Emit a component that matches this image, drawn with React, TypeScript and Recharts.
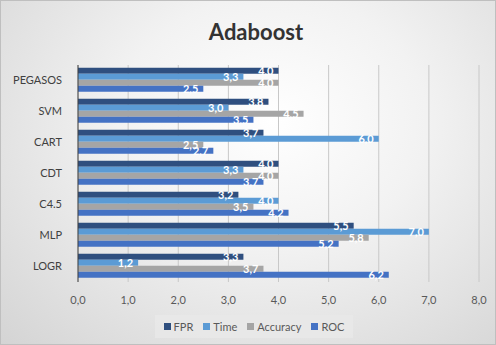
import { BarChart, Bar, XAxis, YAxis, CartesianGrid, LabelList } from "recharts";

const categories = ["PEGASOS", "SVM", "CART", "CDT", "C4.5", "MLP", "LOGR"];
const fpr = [4.0, 3.8, 3.7, 4.0, 3.2, 5.5, 3.3];
const time = [3.3, 3.0, 6.0, 3.3, 4.0, 7.0, 1.2];
const accuracy = [4.0, 4.5, 2.5, 4.0, 3.5, 5.8, 3.7];
const roc = [2.5, 3.5, 2.7, 3.7, 4.2, 5.2, 6.2];
const xTicks = [0, 1, 2, 3, 4, 5, 6, 7, 8];

const SERIES = [
  { key: "FPR", color: "#2f4f7f" },
  { key: "Time", color: "#5b9bd5" },
  { key: "Accuracy", color: "#a5a5a5" },
  { key: "ROC", color: "#4472c4" },
];

const data = categories.map((name, i) => ({
  name,
  FPR: fpr[i],
  Time: time[i],
  Accuracy: accuracy[i],
  ROC: roc[i],
}));

const fmt = (v: number) => v.toFixed(1).replace(".", ",");

function LegendBox() {
  return (
    <div
      style={{
        position: "absolute",
        left: 154,
        top: 314,
        width: 198,
        height: 23,
        display: "flex",
        gap: 10,
        justifyContent: "center",
        alignItems: "center",
        background: "rgba(232,232,232,0.9)",
        fontSize: 11,
        color: "#595959",
      }}
    >
      {SERIES.map((s) => (
        <span key={s.key} style={{ display: "flex", alignItems: "center", gap: 3 }}>
          <span style={{ width: 7, height: 7, background: s.color, display: "inline-block" }} />
          {s.key}
        </span>
      ))}
    </div>
  );
}

export default function App() {
  return (
    <div
      style={{
        position: "absolute",
        left: 0,
        top: 0,
        width: 494,
        height: 343,
        border: "1px solid #bfbfbf",
        background: "radial-gradient(ellipse at 55% 35%, #ffffff 0%, #f2f2f2 40%, #d4d4d4 100%)",
        fontFamily: "Lato, sans-serif",
      }}
    >
      <div
        style={{
          position: "absolute",
          top: 17,
          left: 0,
          width: 510,
          textAlign: "center",
          fontSize: 22,
          fontWeight: 700,
          color: "#333333",
        }}
      >
        Adaboost
      </div>
      <BarChart
        width={494}
        height={343}
        data={data}
        layout="vertical"
        margin={{ top: 64, right: 16, left: 6, bottom: 40 }}
        barCategoryGap="9%"
        barGap={0}
      >
        <CartesianGrid horizontal={false} stroke="#c8c8c8" />
        <XAxis
          type="number"
          domain={[0, 8]}
          ticks={xTicks}
          tickFormatter={fmt}
          axisLine={false}
          tickLine={false}
          tick={{ fontSize: 11, fill: "#595959" }}
          tickMargin={8}
          height={22}
        />
        <YAxis
          type="category"
          dataKey="name"
          width={71}
          axisLine={{ stroke: "#404040" }}
          tickLine={false}
          tickMargin={10}
          tick={{ fontSize: 11, fill: "#404040" }}
        />
        {SERIES.map((s) => (
          <Bar key={s.key} dataKey={s.key} fill={s.color} isAnimationActive={false}>
            <LabelList
              dataKey={s.key}
              position="insideRight"
              formatter={(v: number) => fmt(v)}
              fill="#ffffff"
              fontSize={11}
              fontWeight={700}
            />
          </Bar>
        ))}
      </BarChart>
      <LegendBox />
    </div>
  );
}
